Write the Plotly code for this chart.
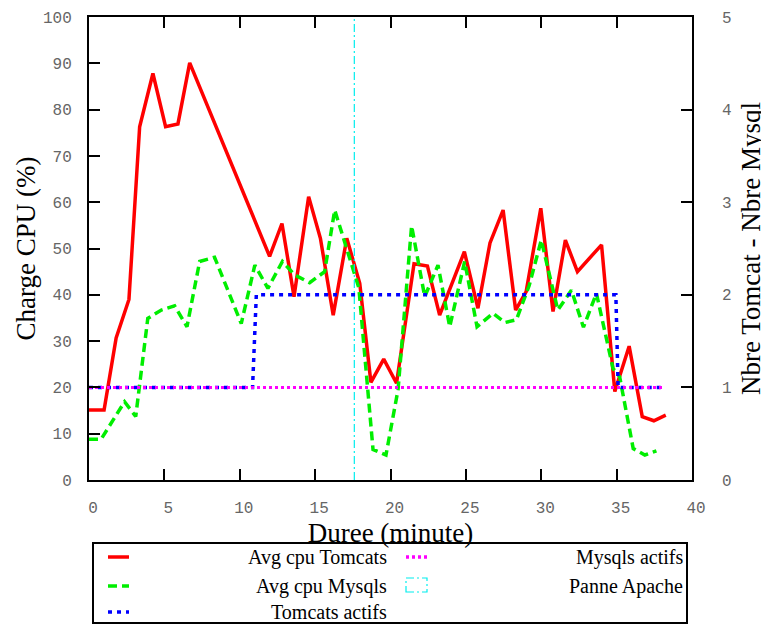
import plotly.graph_objects as go

# time in minutes / average cpu (%) of the tomcat servers
tomcat_t = [0, 1, 1.8, 2.65, 3.36, 4.24, 5.08, 5.9, 6.68, 11.98, 12.8, 13.6, 14.57,
            15.35, 16.2, 17.1, 17.96, 18.7, 19.55, 20.4, 21.56, 22.45, 23.26, 24.9,
            25.8, 26.6, 27.47, 28.3, 29.0, 29.97, 30.78, 31.6, 32.4, 33.2, 34.0,
            34.88, 35.83, 36.7, 37.47, 38.26]
tomcat_cpu = [15.1, 15.1, 30.7, 39.0, 76.3, 87.8, 76.3, 76.9, 90.1, 48.3, 55.4, 39.6,
              61.2, 52.2, 35.6, 52.2, 42.5, 21.1, 26.1, 20.9, 46.7, 46.2, 35.6, 49.3,
              37.1, 51.2, 58.3, 36.7, 40.7, 58.7, 36.4, 51.8, 45.0, 47.9, 50.8, 19.1,
              28.9, 13.7, 12.8, 14.0]

# average cpu (%) of the mysql servers
mysql_t = [0, 0.8, 2.36, 3.1, 3.9, 4.8, 5.68, 6.5, 7.34, 8.33, 10.1, 11.0, 11.87,
           12.83, 13.64, 14.64, 15.63, 16.3, 17.9, 18.84, 19.7, 20.5, 21.4, 22.27,
           23.15, 23.93, 24.92, 25.74, 26.8, 27.58, 28.35, 29.2, 30.0, 31.1, 32.0,
           32.8, 33.66, 34.76, 35.2, 36.1, 36.87, 37.64]
mysql_cpu = [8.8, 8.8, 16.9, 13.7, 34.9, 36.7, 37.6, 33.1, 47.2, 48.1, 33.8, 46.4,
             41.4, 47.2, 44.3, 42.6, 45.0, 58.3, 41.5, 6.6, 5.4, 19.5, 54.9, 39.6,
             46.4, 33.1, 47.2, 33.1, 36.0, 34.0, 34.6, 42.0, 51.8, 36.7, 41.0, 33.0,
             40.3, 24.1, 22.3, 6.8, 5.4, 6.3]

# number of active servers
tomcat_n_t = [0, 10.85, 11.1, 34.95, 35.1, 38.2]
tomcat_n = [1, 1, 2, 2, 1, 1]
mysql_n_t = [0, 38.2]
mysql_n = [1, 1]

# apache failure
panne_t = 17.6

RED, GREEN, BLUE, MAGENTA, CYAN = '#ff0000', '#00ee00', '#0000ff', '#ff00ff', '#00eeee'
red_dash = 'solid'
green_dash = '9px,5px'
blue_dash = '4px,5px'
magenta_dash = '3px,3px'
cyan_dash = '8px,3px,2px,3px'

fig = go.Figure()
fig.add_trace(go.Scatter(x=tomcat_t, y=tomcat_cpu, mode='lines', name='Avg cpu Tomcats',
                         line=dict(color=RED, width=3.5, dash=red_dash)))
fig.add_trace(go.Scatter(x=mysql_t, y=mysql_cpu, mode='lines', name='Avg cpu Mysqls',
                         line=dict(color=GREEN, width=3.5, dash=green_dash)))
fig.add_trace(go.Scatter(x=tomcat_n_t, y=tomcat_n, mode='lines', name='Tomcats actifs',
                         yaxis='y2', line=dict(color=BLUE, width=3.5, dash=blue_dash)))
fig.add_trace(go.Scatter(x=mysql_n_t, y=mysql_n, mode='lines', name='Mysqls actifs',
                         yaxis='y2', line=dict(color=MAGENTA, width=3, dash=magenta_dash)))
fig.add_trace(go.Scatter(x=[panne_t, panne_t], y=[0, 100], mode='lines', name='Panne Apache',
                         line=dict(color=CYAN, width=1.2, dash=cyan_dash)))

tick_font = dict(family='Liberation Mono, DejaVu Sans Mono, monospace', size=16, color='#666666')
title_font = dict(family='Liberation Serif, Times New Roman, serif', size=27, color='black')

# the page body adds 8px around the figure, margins are set so that the
# plot area lands on x 89..692, y 17..480 of the window
fig.update_layout(
    width=769, height=625,
    margin=dict(l=81, r=85, t=9, b=153, autoexpand=False),
    paper_bgcolor='white', plot_bgcolor='white',
    showlegend=False,
    xaxis=dict(range=[0, 40], dtick=5, ticks='inside', ticklen=11, tickwidth=1.5,
               tickcolor='black', showline=True, linecolor='black', linewidth=2,
               mirror='ticks', showgrid=False, zeroline=False, tickfont=tick_font,
               ticklabelstandoff=12, ticklabelshift=4, automargin=False,
               title=dict(text='Duree (minute)', font=title_font, standoff=0)),
    yaxis=dict(range=[0, 100], dtick=10, ticks='inside', ticklen=11, tickwidth=1.5,
               tickcolor='black', showline=True, linecolor='black', linewidth=2,
               mirror=True, showgrid=False, zeroline=False, tickfont=tick_font,
               ticklabelstandoff=12, automargin=False,
               title=dict(text='Charge CPU (%)', font=title_font, standoff=0)),
    yaxis2=dict(range=[0, 5], dtick=1, overlaying='y', side='right', ticks='inside',
                ticklen=11, tickwidth=1.5, tickcolor='black', showline=False,
                showgrid=False, zeroline=False, tickfont=tick_font,
                ticklabelstandoff=29, automargin=False,
                title=dict(text='Nbre Tomcat - Nbre Mysql', font=title_font, standoff=10)),
)


# hand drawn legend, gnuplot style (sample left, text right aligned)
def px(x):
    return (x - 89) / (692 - 89)


def py(y):
    return (480 - y) / (480 - 17)


legend_font = dict(family='Liberation Serif, Times New Roman, serif', size=20, color='black')
fig.add_shape(type='rect', xref='paper', yref='paper', x0=px(93), x1=px(687),
              y0=py(623), y1=py(543), line=dict(color='black', width=2))

entries = [
    ('Avg cpu Tomcats', RED, red_dash, 108, 389, 557),
    ('Avg cpu Mysqls', GREEN, green_dash, 108, 389, 586),
    ('Tomcats actifs', BLUE, blue_dash, 108, 389, 612),
    ('Mysqls actifs', MAGENTA, magenta_dash, 406, 685, 557),
]
for name, color, dash, x0, xt, y in entries:
    fig.add_shape(type='line', xref='paper', yref='paper', x0=px(x0), x1=px(x0 + 21),
                  y0=py(y), y1=py(y), line=dict(color=color, width=3.5, dash=dash))
    fig.add_annotation(x=px(xt), y=py(y), xref='paper', yref='paper', text=name,
                       showarrow=False, xanchor='right', yanchor='middle', font=legend_font)

fig.add_shape(type='rect', xref='paper', yref='paper', x0=px(406), x1=px(427),
              y0=py(592), y1=py(578), line=dict(color=CYAN, width=1.2, dash=cyan_dash))
fig.add_annotation(x=px(685), y=py(586), xref='paper', yref='paper', text='Panne Apache',
                   showarrow=False, xanchor='right', yanchor='middle', font=legend_font)

fig.write_html("out.html")
